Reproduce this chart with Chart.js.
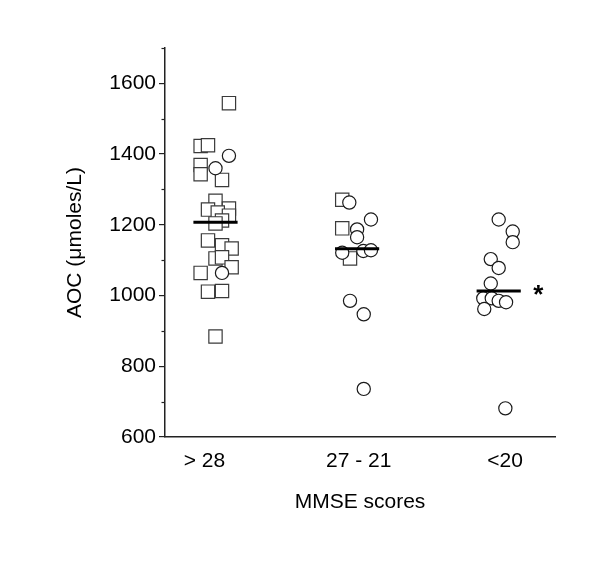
<!DOCTYPE html>
<html><head><meta charset="utf-8">
<script src="https://cdn.jsdelivr.net/npm/chart.js@4/dist/chart.umd.min.js"></script>
<style>html,body{margin:0;padding:0;background:#fff}</style>
</head><body>
<canvas id="c" width="600" height="569"></canvas>
<script>
// ---- data ----
const categories = ['> 28', '27 - 21', '<20'];
const categoryLabelAt = [0.922, 2.011, 3.045];
const yMajorTicks = [600, 800, 1000, 1200, 1400, 1600];
const yMinorTicks = [700, 900, 1100, 1300, 1500, 1700];

// square markers (x = group index + jitter, y = AOC)
const squaresX = [1.095, 0.895, 0.947, 0.895, 0.895, 1.046, 1.0, 0.947, 1.095, 1.016, 1.095, 1.046, 1.0,
                  0.947, 1.046, 1.114, 1.0, 1.046, 1.114, 0.895, 0.947, 1.046, 1.0,
                  1.895, 1.895, 1.95];
const squaresY = [1544, 1423, 1425, 1369, 1343, 1327, 1268, 1243, 1246, 1235, 1226, 1212, 1204,
                  1156, 1142, 1133, 1105, 1108, 1080, 1064, 1011, 1013, 884,
                  1271, 1190, 1105];
// circle markers
const circlesX = [1.095, 1.0, 1.046,
                  1.945, 2.098, 2.0, 2.0, 1.895, 2.044, 2.098, 1.95, 2.047, 2.047,
                  3.0, 3.099, 3.099, 2.944, 3.0, 2.944, 2.891, 2.951, 3.0, 3.052, 2.898, 3.047];
const circlesY = [1395, 1360, 1064,
                  1263, 1215, 1187, 1165, 1121, 1126, 1128, 985, 947, 736,
                  1215, 1181, 1151, 1103, 1078, 1034, 992, 992, 985, 981, 962, 681];
// group means
const meanGroups = [1, 2, 3];
const meanValues = [1207, 1132, 1013];
const meanHalfWidth = 0.156;
// significance marker
const sigGroup = 3.28;
const sigValue = 1013;
const sigText = '*';

const FONT = '"Liberation Sans", Arial, sans-serif';

const datasets = [];
meanGroups.forEach((g, i) => {
  datasets.push({
    data: [{x: g - meanHalfWidth, y: meanValues[i]}, {x: g + meanHalfWidth, y: meanValues[i]}],
    showLine: true, borderColor: '#000', borderWidth: 3, pointRadius: 0, order: 0
  });
});
datasets.push({
  data: circlesX.map((x, i) => ({x, y: circlesY[i]})),
  pointStyle: 'circle', pointRadius: 6.6, backgroundColor: '#fff',
  borderColor: '#1a1a1a', borderWidth: 1.2, order: 1
});
datasets.push({
  data: squaresX.map((x, i) => ({x, y: squaresY[i]})),
  pointStyle: 'rect', pointRadius: 9.4, backgroundColor: '#fff',
  borderColor: '#3a3a3a', borderWidth: 1.2, order: 2
});

const extras = {
  id: 'extras',
  afterDraw(chart) {
    const {ctx, scales: {x, y}} = chart;
    ctx.save();
    // minor ticks on y axis
    ctx.strokeStyle = '#222';
    ctx.lineWidth = 1.2;
    yMinorTicks.forEach(v => {
      const py = Math.round(y.getPixelForValue(v)) + 0.5;
      ctx.beginPath();
      ctx.moveTo(x.left - 3.5, py);
      ctx.lineTo(x.left, py);
      ctx.stroke();
    });
    // significance asterisk
    ctx.fillStyle = '#000';
    ctx.font = 'bold 26px ' + FONT;
    ctx.textAlign = 'center';
    ctx.textBaseline = 'alphabetic';
    ctx.fillText(sigText, x.getPixelForValue(sigGroup), y.getPixelForValue(sigValue) + 12);
    ctx.restore();
  }
};

new Chart(document.getElementById('c'), {
  type: 'scatter',
  data: {datasets},
  plugins: [extras],
  options: {
    responsive: false, animation: false, devicePixelRatio: 1,
    layout: {padding: {left: 60, top: 48, right: 45, bottom: 50}},
    plugins: {legend: {display: false}, tooltip: {enabled: false}},
    scales: {
      x: {
        type: 'linear', min: 0.6434, max: 3.3976,
        afterBuildTicks: s => { s.ticks = categoryLabelAt.map(v => ({value: v})); },
        afterFit: s => { s.height = 82; },
        grid: {display: false, drawTicks: false},
        border: {display: true, color: '#222', width: 1.5},
        ticks: {
          padding: 12, color: '#000', font: {family: FONT, size: 21},
          maxRotation: 0, autoSkip: false,
          callback: (v, i) => categories[i]
        },
        title: {display: true, text: 'MMSE scores', color: '#000',
                font: {family: FONT, size: 21}, padding: {top: 0, bottom: 4}}
      },
      y: {
        type: 'linear', min: 600, max: 1700,
        afterBuildTicks: s => { s.ticks = yMajorTicks.map(v => ({value: v})); },
        afterFit: s => { s.width = 105; },
        grid: {display: true, drawOnChartArea: false, drawTicks: true, tickLength: 6,
               color: '#222', lineWidth: 1.2},
        border: {display: true, color: '#222', width: 1.5},
        ticks: {padding: 3, color: '#000', font: {family: FONT, size: 21},
                callback: v => String(v)},
        title: {display: true, text: 'AOC (\u03bcmoles/L)', color: '#000',
                font: {family: FONT, size: 21}, padding: {top: 3, bottom: 0}}
      }
    }
  }
});
</script>
</body></html>
